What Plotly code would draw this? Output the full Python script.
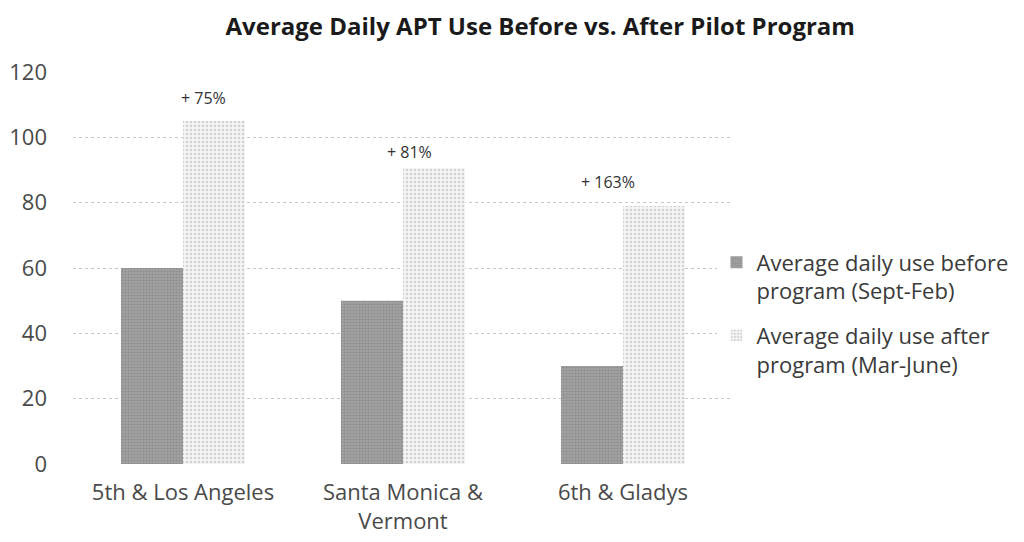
import plotly.graph_objects as go

categories = ["5th & Los Angeles", "Santa Monica &<br>Vermont", "6th & Gladys"]
before_vals = [60, 50, 30]
after_vals = [105, 90.5, 79]
pct_labels = ["+ 75%", "+ 81%", "+ 163%"]
series_names = ["Average daily use before<br>program (Sept-Feb)",
                "Average daily use after<br>program (Mar-June)"]
y_ticks = [0, 20, 40, 60, 80, 100, 120]

FONT = "Open Sans, sans-serif"

fig = go.Figure()
fig.add_trace(go.Bar(x=categories, y=before_vals, name=series_names[0], legendgroup="before",
                     marker=dict(color="#929292", line=dict(width=0),
                                 pattern=dict(shape=".", fgcolor="#767676",
                                              bgcolor="#a2a2a2", size=3, solidity=0.4))))
fig.add_trace(go.Bar(x=categories, y=after_vals, name=series_names[1], legendgroup="after",
                     marker=dict(color="#e6e6e6", line=dict(width=0),
                                 pattern=dict(shape=".", fgcolor="#b0b0b0",
                                              bgcolor="#f4f4f4", size=4, solidity=0.3))))

# hand-placed label offsets (pixels) as in the original text boxes
label_dx = [20, 6, -15]
label_dy = [23, 16, 24]
for cat, v, lab, dx, dy in zip(categories, after_vals, pct_labels, label_dx, label_dy):
    fig.add_annotation(x=cat, y=v, text=lab, showarrow=False, xshift=dx,
                       yanchor="middle", yshift=dy,
                       font=dict(family=FONT, size=16, color="#333333"))

fig.update_layout(
    width=1008, height=526,
    paper_bgcolor="white", plot_bgcolor="white",
    margin=dict(l=65, r=283, t=64, b=70, autoexpand=False),
    barmode="group", bargap=0.436, bargroupgap=0,
    title=dict(text="<b>Average Daily APT Use Before vs. After Pilot Program</b>",
               x=0.528, xanchor="center", y=0.965, yanchor="middle",
               font=dict(family=FONT, size=24, color="#1a1a1a")),
    font=dict(family=FONT, color="#595959"),
    legend=dict(x=0.975, xanchor="left", y=0.568, yanchor="top", valign="top",
                font=dict(family=FONT, size=22, color="#3a3a3a"),
                itemsizing="constant", tracegroupgap=13, traceorder="grouped"),
    showlegend=True,
)
fig.update_xaxes(showline=False, ticks="", ticklabelstandoff=13, automargin=False,
                 tickfont=dict(family=FONT, size=22, color="#4a4a4a"))
fig.update_yaxes(range=[0, 120], tickvals=y_ticks, showgrid=True, gridcolor="#c8c8c8",
                 griddash="dot", gridwidth=1, zeroline=False, showline=False, automargin=False,
                 tickfont=dict(family=FONT, size=22, color="#4a4a4a"), ticklabelstandoff=25)

fig.write_html("out.html")
